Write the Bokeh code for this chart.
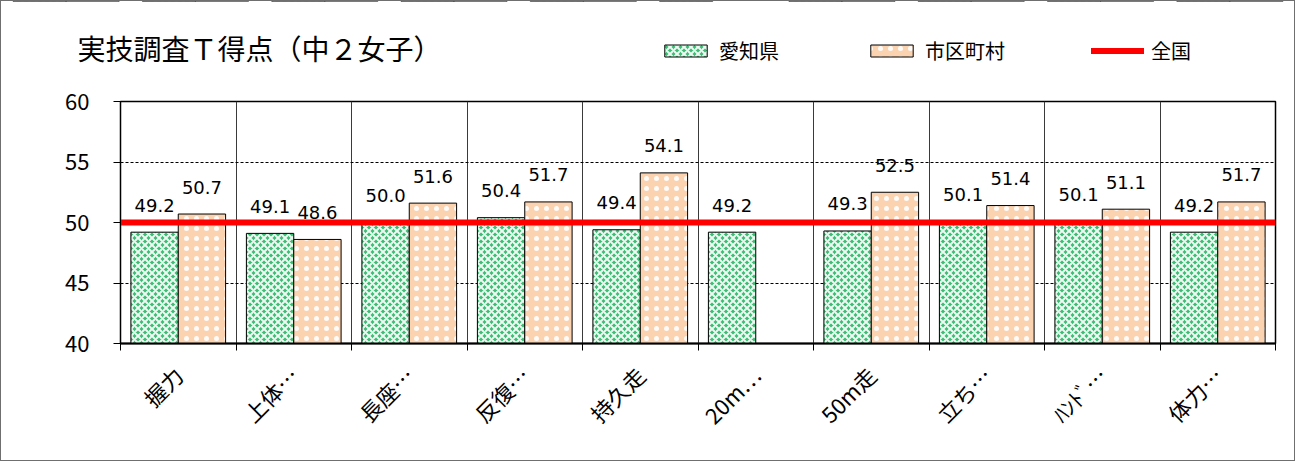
import math
from bokeh.plotting import figure
from bokeh.layouts import column
from bokeh.models import (ColumnDataSource, Range1d, FixedTicker, Legend,
                          LegendItem, Label)
from bokeh.core.properties import value
from bokeh.embed import file_html
from bokeh.resources import INLINE

# ---- data ----
categories = ["握力", "上体…", "長座…", "反復…", "持久走", "20m…", "50m走", "立ち…", "ﾊﾝﾄﾞ…", "体力…"]
aichi = [49.2, 49.1, 50.0, 50.4, 49.4, 49.2, 49.3, 50.1, 50.1, 49.2]
shikuchoson = [50.7, 48.6, 51.6, 51.7, 54.1, None, 52.5, 51.4, 51.1, 51.7]
zenkoku = [50.0, 50.0, 50.0, 50.0, 50.0, 50.0, 50.0, 50.0, 50.0, 50.0]
y_ticks = [40, 45, 50, 55, 60]
title_text = "実技調査Ｔ得点（中２女子）"
series_names = ["愛知県", "市区町村", "全国"]

N = len(categories)
Y_MIN, Y_MAX = y_ticks[0], y_ticks[-1]
BAR_W = 0.41
centers = [i + 0.5 for i in range(N)]

CJK = "Noto Sans CJK JP"
nan = float("nan")

src_a = ColumnDataSource(dict(x=[c - BAR_W / 2 for c in centers], top=aichi))
src_s = ColumnDataSource(dict(x=[c + BAR_W / 2 for c in centers],
                              top=[nan if v is None else v for v in shikuchoson]))
line_x = [0] + centers + [N]
line_y = [zenkoku[0]] + zenkoku + [zenkoku[-1]]

A_STYLE = dict(fill_color="#3cbd74", line_color="black", line_width=1,
               hatch_pattern="x", hatch_color="white", hatch_scale=7,
               hatch_weight=2, hatch_alpha=0.9)
S_STYLE = dict(fill_color="#fbd3b1", line_color="black", line_width=1,
               hatch_pattern=".", hatch_color="white", hatch_scale=10,
               hatch_weight=1.0, hatch_alpha=0.9)
Z_STYLE = dict(line_color="#ff0000", line_width=6)

HEADER_H = 72

# ---------------- main chart ----------------
p = figure(width=1293, height=459 - HEADER_H, frame_width=1155, frame_height=242,
           x_range=Range1d(0, N), y_range=Range1d(Y_MIN, Y_MAX),
           output_backend="svg", toolbar_location=None,
           min_border_left=119, min_border_right=19,
           min_border_top=28, min_border_bottom=117)
p.frame_align = False
p.background_fill_color = "white"
p.border_fill_color = "white"
p.outline_line_color = "black"
p.outline_line_width = 1.5

p.xgrid.ticker = FixedTicker(ticks=list(range(1, N)))
p.xgrid.grid_line_color = "#3a3a3a"
p.xgrid.grid_line_width = 1
p.ygrid.ticker = FixedTicker(ticks=y_ticks[1:-1])
p.ygrid.grid_line_color = "black"
p.ygrid.grid_line_dash = "3 2"
p.ygrid.grid_line_width = 1

p.yaxis.ticker = FixedTicker(ticks=y_ticks)
p.yaxis.major_label_text_font = CJK
p.yaxis.major_label_text_font_size = "22px"
p.yaxis.major_label_text_color = "black"
p.yaxis.major_tick_out = 7
p.yaxis.major_tick_in = 0
p.yaxis.minor_tick_line_color = None
p.yaxis.axis_line_color = "black"
p.yaxis.major_tick_line_color = "black"
p.yaxis.major_label_standoff = 24

p.xaxis.ticker = FixedTicker(ticks=centers, minor_ticks=list(range(N + 1)))
p.xaxis.major_label_overrides = {c: lab for c, lab in zip(centers, categories)}
p.xaxis.major_label_orientation = math.pi / 4
p.xaxis.major_label_text_font = CJK
p.xaxis.major_label_text_font_size = "22px"
p.xaxis.major_label_text_color = "black"
p.xaxis.major_tick_out = 0
p.xaxis.major_tick_in = 0
p.xaxis.minor_tick_out = 7
p.xaxis.minor_tick_in = 0
p.xaxis.minor_tick_line_color = "black"
p.xaxis.axis_line_color = "black"
p.xaxis.axis_line_width = 2
p.xaxis.major_label_standoff = 20

p.vbar(x="x", top="top", bottom=Y_MIN, width=BAR_W, source=src_a, **A_STYLE)
p.vbar(x="x", top="top", bottom=Y_MIN, width=BAR_W, source=src_s, **S_STYLE)

lx, ly, lt = [], [], []
for c, v in zip(centers, aichi):
    lx.append(c - BAR_W / 2); ly.append(v); lt.append(f"{v:.1f}")
for c, v in zip(centers, shikuchoson):
    if v is not None:
        lx.append(c + BAR_W / 2); ly.append(v); lt.append(f"{v:.1f}")
p.text(x=lx, y=ly, text=lt, text_align="center", text_baseline="alphabetic",
       y_offset=-27, text_font=value("DejaVu Sans"), text_font_size="18px",
       text_color="black")

p.line(x=line_x, y=line_y, **Z_STYLE)

# ---------------- header: title + legend ----------------
h = figure(width=1293, height=HEADER_H, x_range=Range1d(0, N), y_range=Range1d(0, 1),
           output_backend="svg", toolbar_location=None,
           x_axis_type=None, y_axis_type=None, min_border=0)
h.frame_align = False
h.grid.visible = False
h.outline_line_color = None
h.background_fill_color = "white"
h.border_fill_color = "white"
# same series, outside the header's visible range: they only feed the legend
ha = h.vbar(x="x", top="top", bottom=Y_MIN, width=BAR_W, source=src_a, **A_STYLE)
hs = h.vbar(x="x", top="top", bottom=Y_MIN, width=BAR_W, source=src_s, **S_STYLE)
hz = h.line(x=line_x, y=line_y, line_cap="round", **Z_STYLE)

legend = Legend(items=[LegendItem(label=series_names[0], renderers=[ha]),
                       LegendItem(label=series_names[1], renderers=[hs]),
                       LegendItem(label=series_names[2], renderers=[hz])],
                orientation="horizontal", location=(658, HEADER_H - 64),
                glyph_width=53, glyph_height=15, label_standoff=7,
                spacing=86, padding=0, margin=0,
                label_text_font=CJK, label_text_font_size="20px",
                label_text_color="black",
                border_line_alpha=0, background_fill_alpha=0)
h.add_layout(legend)

h.add_layout(Label(x=76, y=HEADER_H - 46, x_units="screen", y_units="screen",
                   text=title_text, text_font=CJK, text_font_size="28px",
                   text_baseline="middle", text_color="black"))

layout = column(h, p, spacing=0, styles={"border": "1px solid #6f6f6f"})

open("out.html", "w").write(file_html(layout, INLINE))
